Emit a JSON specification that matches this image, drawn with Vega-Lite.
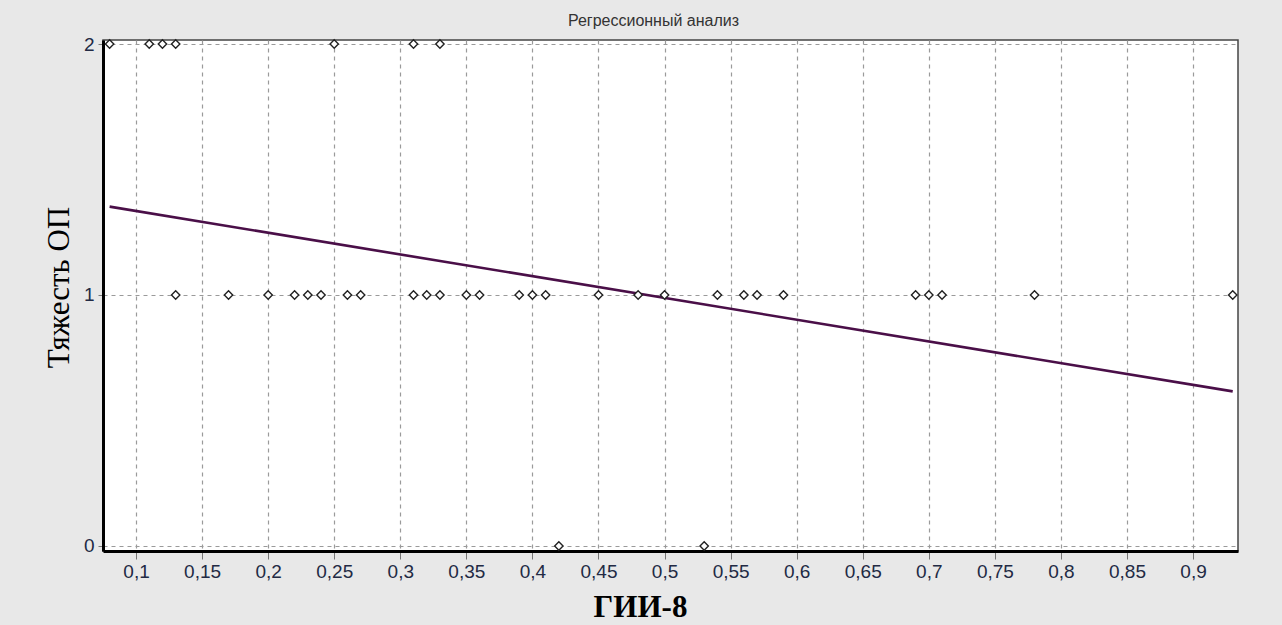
{
  "$schema": "https://vega.github.io/schema/vega-lite/v6.json",
  "width": 1135,
  "height": 511,
  "autosize": {"type": "none"},
  "padding": {"left": 103, "top": 40, "right": 44, "bottom": 74},
  "background": "#e8e8e8",
  "title": {
    "text": "Регрессионный анализ",
    "anchor": "middle",
    "frame": "group",
    "baseline": "alphabetic",
    "offset": 0,
    "dy": 7,
    "dx": -17,
    "font": "Liberation Sans",
    "fontSize": 16,
    "fontWeight": "normal",
    "color": "#333333"
  },
  "config": {
    "view": {"fill": "white", "stroke": "#444444", "strokeWidth": 1.5},
    "axis": {
      "labelFont": "Liberation Sans",
      "labelFontSize": 19,
      "labelColor": "#222a44",
      "tickColor": "#777777",
      "domainColor": "black",
      "domainWidth": 3,
      "gridColor": "#9a9a9a",
      "gridDash": [4, 4],
      "gridWidth": 1.2
    }
  },
  "datasets": {
    "cases": [
      {"gii8": 0.08, "severity": 2},
      {"gii8": 0.11, "severity": 2},
      {"gii8": 0.12, "severity": 2},
      {"gii8": 0.13, "severity": 2},
      {"gii8": 0.25, "severity": 2},
      {"gii8": 0.31, "severity": 2},
      {"gii8": 0.33, "severity": 2},
      {"gii8": 0.13, "severity": 1},
      {"gii8": 0.17, "severity": 1},
      {"gii8": 0.2, "severity": 1},
      {"gii8": 0.22, "severity": 1},
      {"gii8": 0.23, "severity": 1},
      {"gii8": 0.24, "severity": 1},
      {"gii8": 0.26, "severity": 1},
      {"gii8": 0.27, "severity": 1},
      {"gii8": 0.31, "severity": 1},
      {"gii8": 0.32, "severity": 1},
      {"gii8": 0.33, "severity": 1},
      {"gii8": 0.35, "severity": 1},
      {"gii8": 0.36, "severity": 1},
      {"gii8": 0.39, "severity": 1},
      {"gii8": 0.4, "severity": 1},
      {"gii8": 0.41, "severity": 1},
      {"gii8": 0.45, "severity": 1},
      {"gii8": 0.48, "severity": 1},
      {"gii8": 0.5, "severity": 1},
      {"gii8": 0.54, "severity": 1},
      {"gii8": 0.56, "severity": 1},
      {"gii8": 0.57, "severity": 1},
      {"gii8": 0.59, "severity": 1},
      {"gii8": 0.69, "severity": 1},
      {"gii8": 0.7, "severity": 1},
      {"gii8": 0.71, "severity": 1},
      {"gii8": 0.78, "severity": 1},
      {"gii8": 0.93, "severity": 1},
      {"gii8": 0.42, "severity": 0},
      {"gii8": 0.53, "severity": 0}
    ],
    "fit": [
      {"gii8": 0.08, "severity": 1.352},
      {"gii8": 0.93, "severity": 0.616}
    ]
  },
  "encoding": {
    "x": {
      "field": "gii8",
      "type": "quantitative",
      "scale": {"domain": [0.075, 0.934], "nice": false, "zero": false},
      "axis": {
        "orient": "bottom",
        "title": "ГИИ-8",
        "titleFont": "Liberation Serif",
        "titleFontSize": 31,
        "titleFontWeight": "bold",
        "titleColor": "black",
        "titleX": 537,
        "titleY": 65,
        "titleAlign": "center",
        "titleBaseline": "alphabetic",
        "values": [0.1, 0.15, 0.2, 0.25, 0.3, 0.35, 0.4, 0.45, 0.5, 0.55, 0.6, 0.65, 0.7, 0.75, 0.8, 0.85, 0.9],
        "labelExpr": "replace(format(datum.value, '.2~f'), '.', ',')",
        "tickSize": 8,
        "labelPadding": 3,
        "labelFlush": false,
        "labelOverlap": false,
        "grid": true
      }
    },
    "y": {
      "field": "severity",
      "type": "quantitative",
      "scale": {"domain": [-0.02, 2.016], "nice": false, "zero": false},
      "axis": {
        "orient": "left",
        "title": "Тяжесть ОП",
        "titleFont": "Liberation Serif",
        "titleFontSize": 31,
        "titleFontWeight": "normal",
        "titleColor": "black",
        "titleX": -35,
        "titleY": 247,
        "titleAngle": -90,
        "titleAlign": "center",
        "titleBaseline": "alphabetic",
        "values": [0, 1, 2],
        "labelExpr": "format(datum.value, 'd')",
        "tickSize": 5,
        "labelPadding": 4,
        "labelFlush": false,
        "labelOverlap": false,
        "grid": true
      }
    }
  },
  "layer": [
    {
      "data": {"name": "fit"},
      "mark": {"type": "line", "color": "#4a0f48", "strokeWidth": 2.6}
    },
    {
      "data": {"name": "cases"},
      "mark": {
        "type": "point",
        "shape": "diamond",
        "filled": false,
        "fill": "white",
        "fillOpacity": 1,
        "stroke": "#222222",
        "strokeWidth": 1.4,
        "size": 70
      }
    }
  ]
}
